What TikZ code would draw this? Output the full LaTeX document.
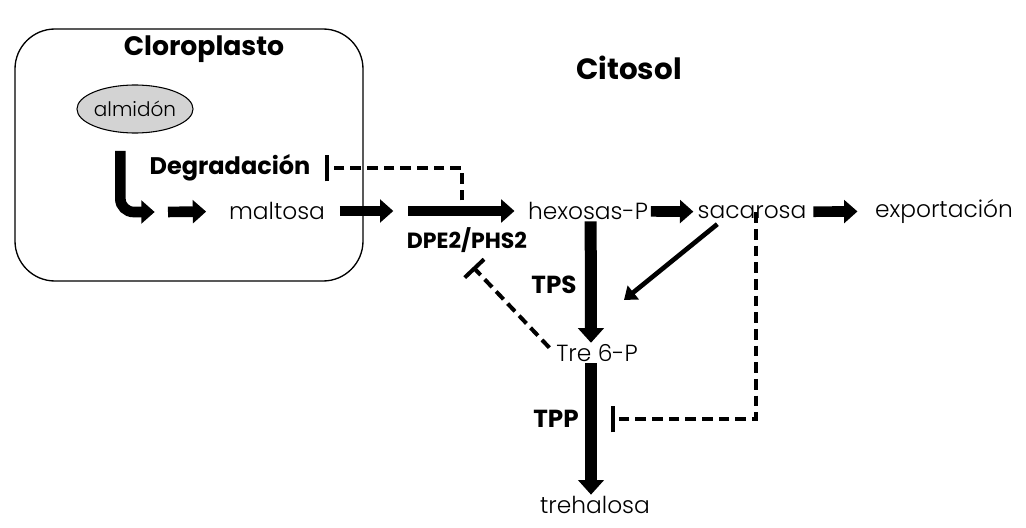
\documentclass[tikz,border=0pt]{standalone}
\usepackage{fontspec}
\setmainfont{Poppins}[UprightFont=* Light, BoldFont=* Bold]
\usetikzlibrary{arrows.meta, positioning, shapes.geometric}
\definecolor{starchgray}{HTML}{D3D3D3}

\begin{document}
\begin{tikzpicture}[
  x=0.75pt, y=-0.75pt,
  metab/.style={inner sep=1pt, font=\fontsize{17.5}{20}\selectfont},
  enzyme/.style={inner sep=1pt, font=\bfseries\fontsize{18}{21}\selectfont},
  title/.style={font=\bfseries\fontsize{20}{24}\selectfont},
  flux/.style={line width=8pt, -{Triangle[length=10pt,width=17pt]}},
  bigflux/.style={line width=9pt, -{Triangle[length=11pt,width=19pt]}},
  thinflux/.style={line width=3.5pt, -{Triangle[length=9pt,width=13pt]}},
  inhib/.style={line width=3pt, dash pattern=on 8pt off 4.5pt, -{Bar[width=20pt,line width=3pt]}}
]
  \useasboundingbox (0,0) rectangle (1026,528);

  % chloroplast
  \draw[line width=1pt, rounded corners=30pt] (15,29) rectangle (363,281);
  \node[title] (clo) at (204,49) {Cloroplasto};
  \node[title, font=\bfseries\fontsize{22}{26}\selectfont] (cito) at (629,68) {Citosol};
  \node[ellipse, draw, fill=starchgray, line width=0.8pt, minimum width=74pt, minimum height=36pt,
        inner sep=0pt, font=\fontsize{15}{18}\selectfont] (alm) at (135,109) {almidón};

  % metabolites
  \node[metab] (malt) at (277,211) {maltosa};
  \node[metab] (hex)  at (588,211) {hexosas-P};
  \node[metab] (sac)  at (752,212) {sacarosa};
  \node[metab] (expo) at (944,211) {exportación};
  \node[metab] (t6p)  at (597,353) {Tre 6-P};
  \node[metab] (tre)  at (595,505) {trehalosa};

  % enzymes
  \node[enzyme] (degr) at (230,168) {Degradación};
  \node[enzyme, font=\bfseries\fontsize{16.5}{19}\selectfont] (dpe) at (467,240) {DPE2/PHS2};
  \node[enzyme, font=\bfseries\fontsize{18.5}{22}\selectfont] (tps) at (554,285) {TPS};
  \node[enzyme, font=\bfseries\fontsize{18.5}{22}\selectfont] (tpp) at (556,419) {TPP};

  \coordinate (split) at (160,212);
  \coordinate (gap) at (400,211);
  \coordinate (dpemid) at (462,211);
  \coordinate (tppmid) at (591,419);
  \coordinate (sacend) at (624,300);
  \coordinate (dpebar) at (473,267);

  % fluxes
  \draw[flux, rounded corners=10pt] ([xshift=-11pt,yshift=-13pt]alm.south) |- ([xshift=-4pt]split);
  \draw[flux, shorten <=6pt, shorten >=16pt] (split) -- (malt);
  \draw[flux, shorten <=10pt, shorten >=5pt] (malt) -- (gap);
  \draw[flux, shorten <=6pt, shorten >=9pt] (gap) -- (hex);
  \draw[flux, shorten <=1pt, shorten >=2pt] (hex) -- (sac);
  \draw[flux, shorten <=4pt, shorten >=12pt] (sac) -- (expo);
  \draw[bigflux] ([xshift=2pt]hex.south) -- (t6p.north -| tppmid);
  \draw[bigflux] (t6p.south -| tppmid) -- (tre.north -| tppmid);
  \draw[thinflux] ([xshift=-26pt,yshift=-3pt]sac.south) -- (sacend);

  % regulation
  \draw[inhib, shorten >=10pt] ([yshift=8pt]dpemid) |- (degr.east);
  \draw[inhib] ([xshift=-4pt,yshift=4pt]t6p.west) -- (dpebar);
  \draw[inhib, shorten >=15pt] ([yshift=6pt,xshift=3pt]sac.south) |- (tppmid);
\end{tikzpicture}
\end{document}
